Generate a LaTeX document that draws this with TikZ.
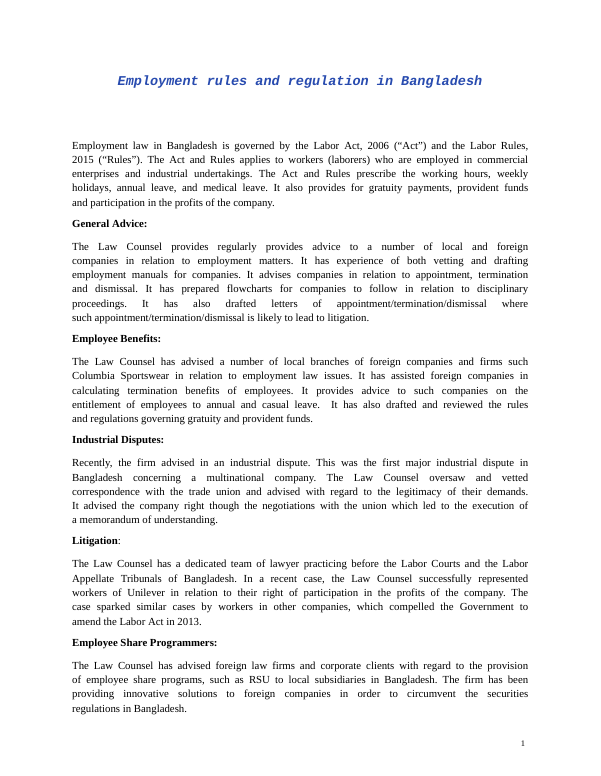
\documentclass[tikz,border=0pt]{standalone}
\usepackage{fontspec}
\setmainfont{Liberation Serif}
\newfontfamily\titlefont{Liberation Mono}
\definecolor{titleblue}{RGB}{40,75,175}
\frenchspacing
\newcommand{\jl}[2]{\node[anchor=base west,inner sep=0] at (72,-#1) {\hbox to 456pt{#2}};}
\newcommand{\nl}[2]{\node[anchor=base west,inner sep=0] at (72,-#1) {#2};}
\begin{document}
\begin{tikzpicture}[x=1pt,y=1pt,every node/.style={font=\fontsize{10.8}{13}\selectfont\frenchspacing}]
\useasboundingbox (0,0) rectangle (600,-776);
\fill[white] (0,0) rectangle (600,-776);
\node[anchor=base,inner sep=0,text=titleblue,font=\titlefont\bfseries\itshape\fontsize{13.5}{15}\selectfont] (title) at (300,-85) {Employment rules and regulation in Bangladesh};
\jl{149}{Employment law in Bangladesh is governed by the Labor Act, 2006 (“Act”) and the Labor Rules,}
\jl{163.3}{2015 (“Rules”). The Act and Rules applies to workers (laborers) who are employed in commercial}
\jl{177.6}{enterprises and industrial undertakings. The Act and Rules prescribe the working hours, weekly}
\jl{191.9}{holidays, annual leave, and medical leave. It also provides for gratuity payments, provident funds}
\nl{206.2}{and participation in the profits of the company.}
\nl{227}{\bfseries General Advice:}
\jl{250}{The Law Counsel provides regularly provides advice to a number of local and foreign}
\jl{264.3}{companies in relation to employment matters. It has experience of both vetting and drafting}
\jl{278.6}{employment manuals for companies. It advises companies in relation to appointment, termination}
\jl{292.9}{and dismissal. It has prepared flowcharts for companies to follow in relation to disciplinary}
\jl{307.2}{proceedings. It has also drafted letters of appointment/termination/dismissal where}
\nl{321.5}{such appointment/termination/dismissal is likely to lead to litigation.}
\nl{342.5}{\bfseries Employee Benefits:}
\jl{365.5}{The Law Counsel has advised a number of local branches of foreign companies and firms such}
\jl{379.8}{Columbia Sportswear in relation to employment law issues. It has assisted foreign companies in}
\jl{394.1}{calculating termination benefits of employees. It provides advice to such companies on the}
\jl{408.4}{entitlement of employees to annual and casual leave.\ \ It has also drafted and reviewed the rules}
\nl{422.7}{and regulations governing gratuity and provident funds.}
\nl{443.7}{\bfseries Industrial Disputes:}
\jl{466.7}{Recently, the firm advised in an industrial dispute. This was the first major industrial dispute in}
\jl{481}{Bangladesh concerning a multinational company. The Law Counsel oversaw and vetted}
\jl{495.3}{correspondence with the trade union and advised with regard to the legitimacy of their demands.}
\jl{509.6}{It advised the company right though the negotiations with the union which led to the execution of}
\nl{523.9}{a memorandum of understanding.}
\nl{544.9}{{\bfseries Litigation}:}
\jl{567.9}{The Law Counsel has a dedicated team of lawyer practicing before the Labor Courts and the Labor}
\jl{582.2}{Appellate Tribunals of Bangladesh. In a recent case, the Law Counsel successfully represented}
\jl{596.5}{workers of Unilever in relation to their right of participation in the profits of the company. The}
\jl{610.8}{case sparked similar cases by workers in other companies, which compelled the Government to}
\nl{625.1}{amend the Labor Act in 2013.}
\nl{646.1}{\bfseries Employee Share Programmers:}
\jl{669.1}{The Law Counsel has advised foreign law firms and corporate clients with regard to the provision}
\jl{683.4}{of employee share programs, such as RSU to local subsidiaries in Bangladesh. The firm has been}
\jl{697.7}{providing innovative solutions to foreign companies in order to circumvent the securities}
\nl{712}{regulations in Bangladesh.}
\node[anchor=base,inner sep=0,font=\fontsize{8.5}{10}\selectfont] (pagenum) at (523,-746) {1};
\end{tikzpicture}
\end{document}
